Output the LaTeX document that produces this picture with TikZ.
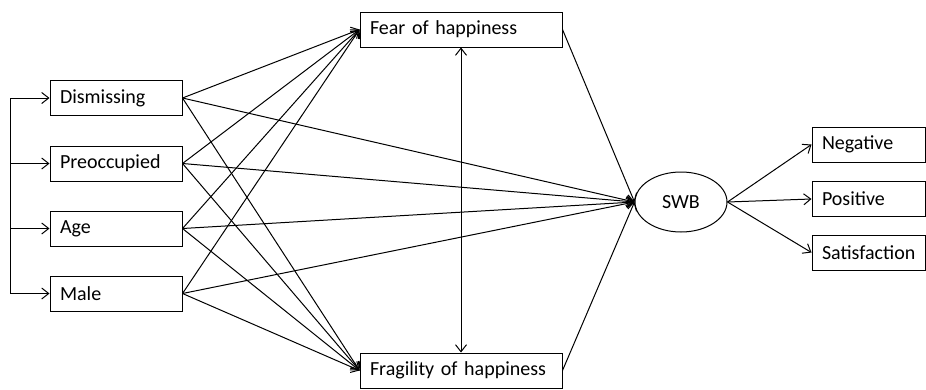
\documentclass[tikz,border=0pt]{standalone}
\usepackage{fontspec}
\setmainfont{Carlito}
\usetikzlibrary{arrows.meta,shapes.geometric}
\begin{document}
\begin{tikzpicture}[x=1pt,y=-1pt,
  box/.style={draw,line width=1pt,inner xsep=10pt,inner ysep=0pt,minimum height=35pt,font=\fontsize{20}{22}\selectfont,align=left},
  arr/.style={line width=1pt,-{Straight Barb[length=7pt,width=11pt]}},
  dbl/.style={line width=1pt,{Straight Barb[length=7pt,width=11pt]}-{Straight Barb[length=7pt,width=11pt]}}]
\useasboundingbox (0,0) rectangle (926,389);
% left boxes
\node[box,text width=112pt] (dis) at (116,98) {Dismissing};
\node[box,text width=112pt] (pre) at (116,163.5) {Preoccupied};
\node[box,text width=112pt] (age) at (116,228.5) {Age};
\node[box,text width=112pt] (male) at (116,293.5) {Male};
% mediators
\node[box,text width=182pt] (fear) at (461,29.5) {Fear of happiness};
\node[box,text width=182pt] (frag) at (461,370.5) {Fragility of happiness};
% SWB
\node[draw,line width=1pt,ellipse,minimum width=92pt,minimum height=60pt,inner sep=0pt,font=\fontsize{20}{22}\selectfont] (swb) at (681,202) {SWB};
% outcomes
\node[box,text width=93pt] (neg) at (868.5,144.5) {Negative};
\node[box,text width=93pt] (pos) at (868.5,199) {Positive};
\node[box,text width=93pt] (sat) at (868.5,252.5) {Satisfaction};
% bracket
\coordinate (c1) at (10,98);
\coordinate (c2) at (10,163.5);
\coordinate (c3) at (10,228.5);
\coordinate (c4) at (10,293.5);
\draw[line width=1pt] (c1) -- (c4);
\foreach \c/\n in {c1/dis,c2/pre,c3/age,c4/male}
  \draw[arr] (\c) -- (\n.west);
% predictors to mediators and SWB
\foreach \n in {dis,pre,age,male}{
  \draw[arr] (\n.east) -- (fear.west);
  \draw[arr] (\n.east) -- (frag.west);
  \draw[arr] (\n.east) -- (swb.west);
}
% mediators to SWB
\draw[arr] (fear.east) -- (swb.west);
\draw[arr] (frag.east) -- (swb.west);
% covariance
\draw[dbl] (fear.south) -- (frag.north);
% SWB to outcomes
\draw[arr] (swb.east) -- (neg.west);
\draw[arr] (swb.east) -- (pos.west);
\draw[arr] (swb.east) -- (sat.west);
\end{tikzpicture}
\end{document}
